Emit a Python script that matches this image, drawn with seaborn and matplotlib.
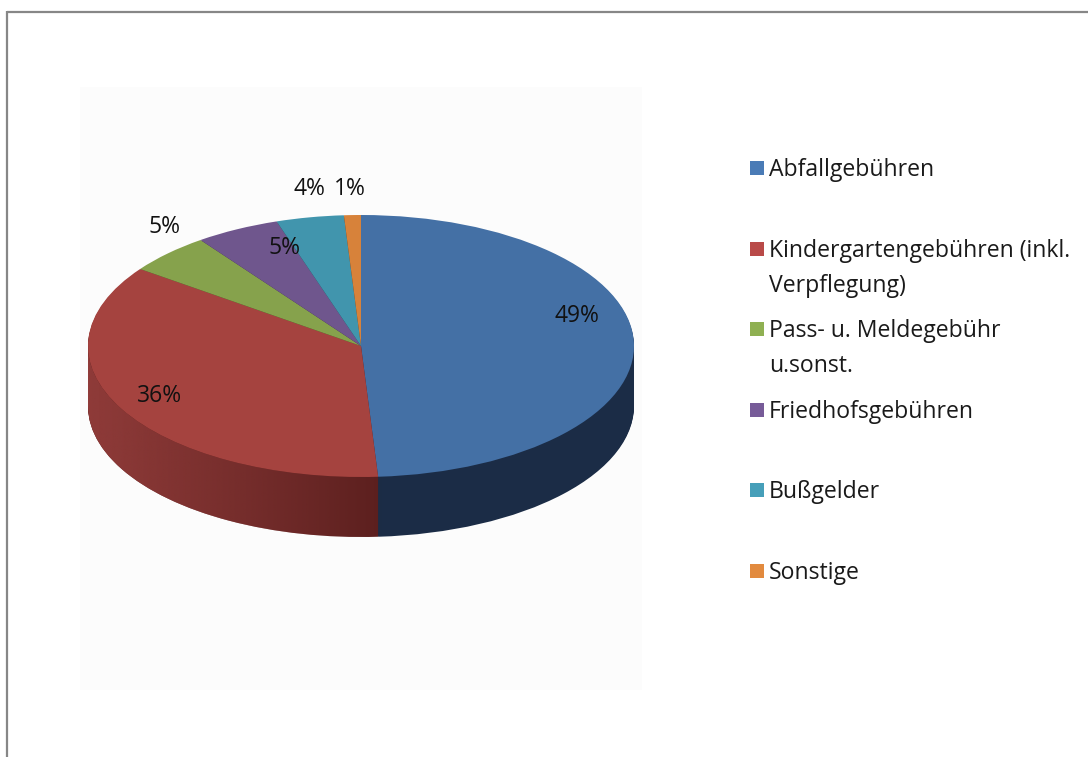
# Gebuehreneinnahmen als 3D-Tortendiagramm (Excel-Stil nachgebaut).

import matplotlib

matplotlib.use('Agg')

import matplotlib.pyplot as plt
import matplotlib.patches as mpatches
from matplotlib.path import Path
import matplotlib.colors as mcolors
import seaborn as sns
import numpy as np


categories = [
    'Abfallgebühren',
    'Kindergartengebühren (inkl.\nVerpflegung)',
    'Pass- u. Meldegebühr\nu.sonst.',
    'Friedhofsgebühren',
    'Bußgelder',
    'Sonstige',
]

shares = [49, 36, 5, 5, 4, 1]

top_colors = ['#4470a5', '#a5433f', '#86a24c', '#6f568d', '#4195ad', '#d7823a']
legend_colors = ['#4a7bb6', '#b94a48', '#8fb052', '#775b98', '#469fb9', '#e28a3e']
side_colors = ['#1b2c46', '#5b1f1e', '#3c4a22', '#32263f', '#1d434e', '#60391a']

# Layout in Pixeln (Bild 1088x757)
W, H = 1088, 757
CX, CY = 361, 346
RX, RY = 273, 131
DEPTH = 60
D = DEPTH / RY

label_pos = [
    (577, 316),
    (160, 396),
    (165, 227),
    (285, 248),
    (309, 189),
    (350, 189),
]

sns.set_style('white')
plt.rcParams['font.family'] = ['Open Sans', 'DejaVu Sans']

fig = plt.figure(figsize=(W / 100, H / 100), dpi=100)

# Hintergrund, Rahmen und Legende in Pixelkoordinaten
bg = fig.add_axes([0, 0, 1, 1], zorder=0)
bg.set_xlim(0, W)
bg.set_ylim(H, 0)
bg.set_axis_off()

bg.add_patch(mpatches.Rectangle((80, 87), 562, 603, facecolor='#fcfcfc', edgecolor='none'))
bg.plot([7, W], [11.5, 11.5], color='#878787', lw=1.6, solid_capstyle='butt')
bg.plot([7, 7], [11, H], color='#878787', lw=1.6, solid_capstyle='butt')

for i, (name, col) in enumerate(zip(categories, legend_colors)):

    y = 168 + 80.6 * i

    bg.add_patch(mpatches.Rectangle((750, y - 7), 14, 14, facecolor=col, edgecolor='none'))

    bg.text(769, y - 10, name, fontsize=16.6, color='#1a1a1a', va='top', ha='left', linespacing=1.62)

# Torte: Achse so gelegt, dass Radius 1 = RX bzw. RY Pixel
left = (CX - RX) / W
width = 2 * RX / W
bottom = (H - (CY + RY + DEPTH)) / H
height = (2 * RY + DEPTH) / H

ax = fig.add_axes([left, bottom, width, height], zorder=1)
ax.patch.set_alpha(0)

# Seitenflaeche: viele versetzte Schichten von unten nach oben
n_layers = 60

for k in range(n_layers, 0, -1):

    off = D * k / n_layers

    ax.pie(
        shares,
        colors=side_colors,
        startangle=90,
        counterclock=False,
        center=(0, -off),
        radius=1,
        wedgeprops={'linewidth': 0, 'zorder': 1},
    )

# Helligkeitsverlauf auf der roten Seitenflaeche
t = np.linspace(np.pi, 2 * np.pi, 200)
verts = np.concatenate([
    np.column_stack([np.cos(t), np.sin(t) - D]),
    np.column_stack([np.cos(t[::-1]), np.sin(t[::-1])]),
])
band = mpatches.PathPatch(Path(verts), facecolor='none', edgecolor='none')
ax.add_patch(band)

grad = np.zeros((1, 256, 4))
grad[..., :3] = mcolors.to_rgb('#8f3b39')
grad[0, :, 3] = np.linspace(1, 0, 256) ** 0.9

img = ax.imshow(grad, extent=(-1.0, 0.08, -1 - D, 0.2), aspect='auto', zorder=1.5, interpolation='bilinear')
img.set_clip_path(band)

# Deckflaeche
wedges, texts, autotexts = ax.pie(
    shares,
    colors=top_colors,
    startangle=90,
    counterclock=False,
    radius=1,
    autopct=lambda p: f'{p:.0f}%',
    textprops={'fontsize': 16.5, 'color': '#111111'},
    wedgeprops={'linewidth': 0, 'zorder': 2},
)

for txt, (px, py) in zip(autotexts, label_pos):

    txt.set_position(((px - CX) / RX, (CY - py) / RY))
    txt.set_ha('center')
    txt.set_va('center')
    txt.set_zorder(5)
    txt.set_clip_on(False)

ax.set_aspect('auto')
ax.set_xlim(-1, 1)
ax.set_ylim(-1 - D, 1)
ax.set_axis_off()

plt.savefig('out.png', dpi=100)

plt.close()
